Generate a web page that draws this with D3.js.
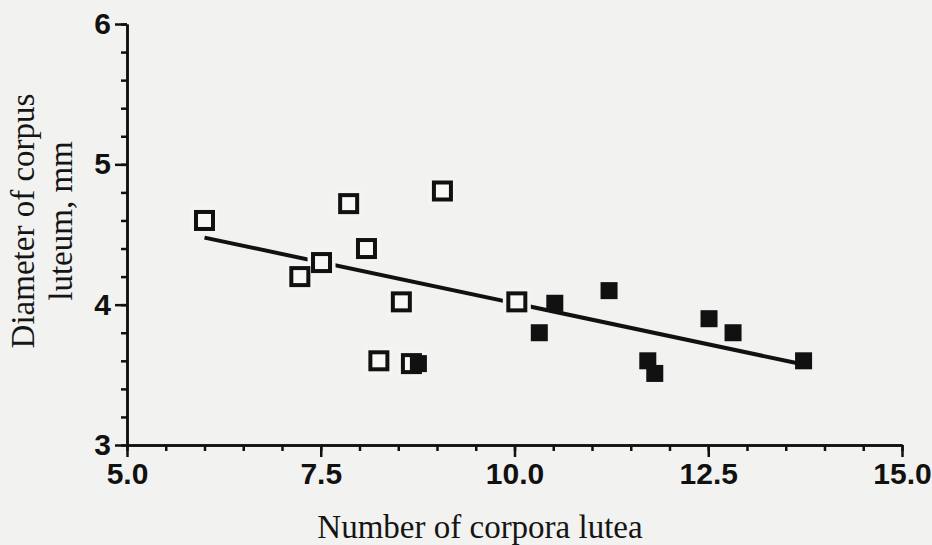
<!DOCTYPE html>
<html>
<head>
<meta charset="utf-8">
<script src="https://d3js.org/d3.v7.min.js"></script>
<style>
  html, body { margin: 0; padding: 0; background: #f2f2f0; }
  svg { display: block; }
  .title { font-family: "Liberation Serif", "Times New Roman", serif; font-size: 33px; fill: #151515; }
</style>
</head>
<body>
<svg width="932" height="545"></svg>
<script>
// Control group (open squares)
const controlX = [6.0, 7.23, 7.51, 7.86, 8.09, 9.07, 8.54, 8.25, 8.67, 10.03];
const controlY = [4.60, 4.20, 4.30, 4.72, 4.40, 4.81, 4.02, 3.60, 3.58, 4.02];

// Vitamins + Se group (filled squares)
const vitX = [8.76, 10.32, 10.52, 11.22, 11.72, 11.81, 12.51, 12.82, 13.73];
const vitY = [3.58, 3.80, 4.01, 4.10, 3.60, 3.51, 3.90, 3.80, 3.60];

// regression y = 5.18 - 0.117x
const fitIntercept = 5.18;
const fitSlope = -0.117;

const xTicks = [5.0, 7.5, 10.0, 12.5, 15.0];
const yTicks = [3, 4, 5, 6];

const ink = "#111";
const svg = d3.select("svg");

const x = d3.scaleLinear().domain([5, 15]).range([127, 902]);
const y = d3.scaleLinear().domain([3, 6]).range([445, 24]);

const styleTicks = g => {
  g.selectAll("line,path").attr("stroke", ink).attr("stroke-width", 2.5);
  g.selectAll("text")
    .attr("font-family", "'Liberation Sans', Arial, sans-serif")
    .attr("font-weight", "bold")
    .attr("font-size", 30)
    .attr("fill", ink);
};

// minor ticks
svg.append("g")
  .attr("transform", "translate(0,445)")
  .call(d3.axisBottom(x).tickValues(d3.range(5, 15.01, 0.5)).tickSize(6).tickSizeOuter(0).tickFormat(""))
  .call(styleTicks);

svg.append("g")
  .attr("transform", "translate(127,0)")
  .call(d3.axisLeft(y).tickValues(d3.range(3, 6.001, 0.2)).tickSize(6).tickSizeOuter(0).tickFormat(""))
  .call(styleTicks);

// major ticks + labels
svg.append("g")
  .attr("transform", "translate(0,445)")
  .call(d3.axisBottom(x).tickValues(xTicks).tickSize(12).tickSizeOuter(0).tickPadding(4).tickFormat(d3.format(".1f")))
  .call(styleTicks)
  .call(g => g.selectAll("text").attr("dy", "0.78em"));

svg.append("g")
  .attr("transform", "translate(127,0)")
  .call(d3.axisLeft(y).tickValues(yTicks).tickSize(12).tickSizeOuter(0).tickPadding(4).tickFormat(d3.format("d")))
  .call(styleTicks);

// regression line
const allX = controlX.concat(vitX);
const x0 = d3.min(allX), x1 = d3.max(allX);
svg.append("line")
  .attr("x1", x(x0)).attr("y1", y(fitIntercept + fitSlope * x0))
  .attr("x2", x(x1)).attr("y2", y(fitIntercept + fitSlope * x1))
  .attr("stroke", ink).attr("stroke-width", 4);

// open squares, with a light halo
const control = controlX.map((v, i) => ({ x: v, y: controlY[i] }));
const s = 17;
svg.append("g").selectAll("rect")
  .data(control)
  .enter()
  .append("rect")
  .attr("x", d => x(d.x) - s / 2)
  .attr("y", d => y(d.y) - s / 2)
  .attr("width", s).attr("height", s)
  .attr("fill", "#f6f6f4")
  .attr("stroke", "#f4f4f2")
  .attr("stroke-width", 11);

svg.append("g").selectAll("rect")
  .data(control)
  .enter()
  .append("rect")
  .attr("x", d => x(d.x) - s / 2)
  .attr("y", d => y(d.y) - s / 2)
  .attr("width", s).attr("height", s)
  .attr("fill", "#f8f8f6")
  .attr("stroke", ink)
  .attr("stroke-width", 4);

// filled squares
const vit = vitX.map((v, i) => ({ x: v, y: vitY[i] }));
const f = 17;
svg.append("g").selectAll("rect")
  .data(vit)
  .enter()
  .append("rect")
  .attr("x", d => x(d.x) - f / 2)
  .attr("y", d => y(d.y) - f / 2)
  .attr("width", f).attr("height", f)
  .attr("fill", ink);

// axis titles
svg.append("text")
  .attr("class", "title")
  .attr("x", 480).attr("y", 538)
  .attr("text-anchor", "middle")
  .text("Number of corpora lutea");

const yt = svg.append("text")
  .attr("class", "title")
  .attr("transform", "translate(34,221) rotate(-90)")
  .attr("text-anchor", "middle");
yt.append("tspan").attr("x", 0).attr("y", 0).text("Diameter of corpus");
yt.append("tspan").attr("x", 0).attr("y", 38).text("luteum, mm");
</script>
</body>
</html>
